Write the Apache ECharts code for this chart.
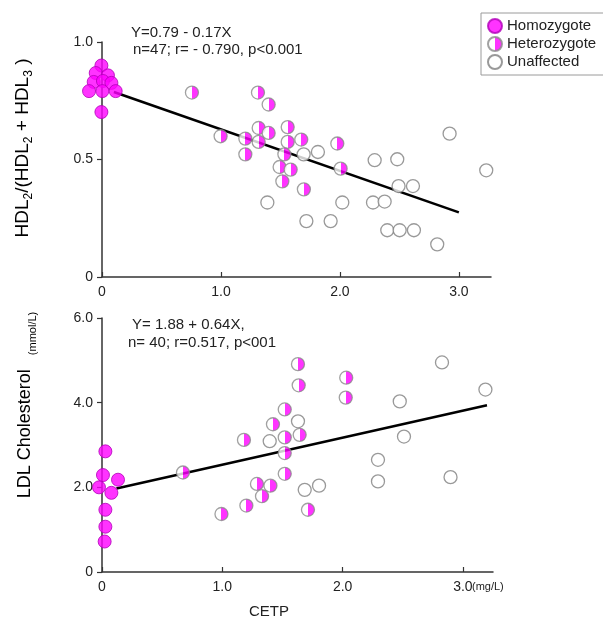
<!DOCTYPE html>
<html><head><meta charset="utf-8">
<script src="https://cdn.jsdelivr.net/npm/echarts@6/dist/echarts.min.js"></script>
<style>html,body{margin:0;padding:0;background:#fff}#c{width:603px;height:619px}</style>
</head><body><div id="c"></div>
<script>
// ---------- data ----------
const xTickValues = [0, 1, 2, 3];
const xTickLabels = ['0', '1.0', '2.0', '3.0'];
const hdlTickLabels = { 0: '0', 0.5: '0.5', 1: '1.0' };
const ldlTickLabels = { 0: '0', 2: '2.0', 4: '4.0', 6: '6.0' };

// Top panel: HDL2/(HDL2+HDL3) vs CETP
const hdlHomo = [[-0.005,0.90],[-0.053,0.868],[0.05,0.858],[-0.07,0.83],[0.008,0.834],[0.079,0.826],[-0.109,0.791],[0.003,0.791],[0.115,0.791],[-0.005,0.702]];
const hdlHetero = [[0.756,0.785],[1.311,0.785],[1.401,0.734],[0.997,0.599],[1.317,0.634],[1.401,0.613],[1.205,0.589],[1.317,0.575],[1.561,0.638],[1.561,0.575],[1.675,0.585],[1.205,0.522],[1.533,0.522],[1.493,0.468],[1.586,0.457],[1.516,0.407],[1.697,0.373],[1.978,0.568],[2.006,0.461]];
const hdlUnaff = [[1.695,0.522],[1.815,0.532],[1.39,0.317],[1.718,0.238],[1.922,0.238],[2.02,0.317],[2.292,0.497],[2.482,0.501],[2.493,0.387],[2.614,0.387],[2.278,0.317],[2.376,0.321],[2.398,0.199],[2.502,0.199],[2.622,0.199],[2.818,0.139],[2.922,0.61],[3.23,0.454]];
const hdlFit = [[0.1,0.787],[3.0,0.275]];

// Bottom panel: LDL cholesterol vs CETP
const ldlHomo = [[0.028,2.85],[0.008,2.29],[-0.025,2.0],[0.078,1.87],[0.133,2.18],[0.028,1.47],[0.028,1.07],[0.022,0.72]];
const ldlHetero = [[0.673,2.35],[0.993,1.37],[1.18,3.12],[1.2,1.57],[1.288,2.08],[1.4,2.04],[1.33,1.79],[1.421,3.49],[1.519,3.84],[1.519,3.18],[1.519,2.81],[1.519,2.32],[1.629,4.91],[1.635,4.41],[1.643,3.24],[1.712,1.47],[2.03,4.59],[2.026,4.12]];
const ldlUnaff = [[1.394,3.09],[1.629,3.56],[1.685,1.94],[1.804,2.04],[2.294,2.65],[2.294,2.14],[2.475,4.03],[2.51,3.20],[2.826,4.95],[2.897,2.24],[3.187,4.31]];
const ldlFit = [[0.12,1.97],[3.2,3.94]];

// ---------- styling ----------
const FONT = '"Liberation Sans", Arial, sans-serif';
const TXT = '#222';
const AX = '#333';
const MAG = '#ff00ff';
const homoStyle = { color: MAG, borderColor: '#b000b8', borderWidth: 1 };
const heteroStyle = {
  color: { type: 'linear', x: 0, y: 0, x2: 1, y2: 0,
    colorStops: [{offset:0,color:'#ffffff'},{offset:0.5,color:'#ffffff'},{offset:0.5,color:MAG},{offset:1,color:MAG}] },
  borderColor: '#8a8a8a', borderWidth: 1.3 };
const unaffStyle = { color: '#ffffff', borderColor: '#808080', borderWidth: 1.3 };
const SYM = 13;

function xAxisCfg(gridIndex, max) {
  return {
    gridIndex, type: 'value', min: 0, max,
    axisLine: { lineStyle: { color: AX, width: 1.5 } },
    axisTick: { inside: true, length: 5, customValues: xTickValues, lineStyle: { color: AX, width: 1.2 } },
    axisLabel: { customValues: xTickValues, margin: 8, fontSize: 14, color: TXT, fontFamily: FONT,
      formatter: v => xTickLabels[xTickValues.indexOf(Math.round(v))] },
    splitLine: { show: false }
  };
}
function yAxisCfg(gridIndex, max, interval, labels) {
  return {
    gridIndex, type: 'value', min: 0, max, interval,
    axisLine: { show: true, lineStyle: { color: AX, width: 1.5 } },
    axisTick: { show: true, length: 5, lineStyle: { color: AX, width: 1.2 } },
    axisLabel: { margin: 9, fontSize: 14, color: TXT, fontFamily: FONT, formatter: v => labels[v] ?? '' },
    splitLine: { show: false }
  };
}
function scatter(name, data, style, idx) {
  return { name, type: 'scatter', xAxisIndex: idx, yAxisIndex: idx, data,
    symbol: 'circle', symbolSize: SYM, itemStyle: style, clip: false, z: 3,
    emphasis: { disabled: true } };
}
function fit(data, idx) {
  return { name: 'fit' + idx, type: 'line', xAxisIndex: idx, yAxisIndex: idx, data,
    showSymbol: false, symbol: 'none', lineStyle: { color: '#000', width: 2.6 }, z: 2,
    emphasis: { disabled: true }, silent: true };
}

const chart = echarts.init(document.getElementById('c'), null, { renderer: 'canvas' });
chart.setOption({
  animation: false,
  backgroundColor: '#fff',
  textStyle: { fontFamily: FONT },
  grid: [
    { left: 102, top: 42, width: 389, height: 235 },
    { left: 102, top: 318, width: 391, height: 254 }
  ],
  xAxis: [xAxisCfg(0, 3.27), xAxisCfg(1, 3.25)],
  yAxis: [yAxisCfg(0, 1, 0.5, hdlTickLabels), yAxisCfg(1, 6, 2, ldlTickLabels)],
  legend: {
    orient: 'vertical', left: 481, top: 13,
    data: ['Homozygote', 'Heterozygote', 'Unaffected'],
    itemWidth: 14, itemHeight: 14, itemGap: 2,
    padding: [5, 8, 5, 6],
    borderColor: '#9a9a9a', borderWidth: 1,
    textStyle: { fontSize: 15, color: TXT, fontFamily: FONT },
    selectedMode: false
  },
  series: [
    fit(hdlFit, 0), fit(ldlFit, 1),
    scatter('Unaffected', hdlUnaff, unaffStyle, 0),
    scatter('Heterozygote', hdlHetero, heteroStyle, 0),
    scatter('Homozygote', hdlHomo, homoStyle, 0),
    scatter('Unaffected', ldlUnaff, unaffStyle, 1),
    scatter('Heterozygote', ldlHetero, heteroStyle, 1),
    scatter('Homozygote', ldlHomo, homoStyle, 1)
  ],
  graphic: [
    { type: 'text', x: 131, y: 33, style: { text: 'Y=0.79 - 0.17X', font: '15px ' + FONT, fill: TXT, align: 'left', verticalAlign: 'middle' } },
    { type: 'text', x: 133, y: 50, style: { text: 'n=47; r= - 0.790, p<0.001', font: '15px ' + FONT, fill: TXT, align: 'left', verticalAlign: 'middle' } },
    { type: 'text', x: 132, y: 325, style: { text: 'Y= 1.88 + 0.64X,', font: '15px ' + FONT, fill: TXT, align: 'left', verticalAlign: 'middle' } },
    { type: 'text', x: 128, y: 343, style: { text: 'n= 40; r=0.517, p<001', font: '15px ' + FONT, fill: TXT, align: 'left', verticalAlign: 'middle' } },
    { type: 'text', x: 472, y: 587, style: { text: '(mg/L)', font: '11px ' + FONT, fill: TXT, align: 'left', verticalAlign: 'middle' } },
    { type: 'text', x: 269, y: 612, style: { text: 'CETP', font: '15px ' + FONT, fill: TXT, align: 'center', verticalAlign: 'middle' } },
    { type: 'text', x: 23, y: 148, rotation: Math.PI / 2,
      style: { text: '{m|HDL}{s|2}{m|/(HDL}{s|2}{m| + HDL}{s|3}{m| )}', align: 'center', verticalAlign: 'middle',
        rich: { m: { fontSize: 19, lineHeight: 24, fontFamily: FONT, color: TXT },
                s: { fontSize: 12, lineHeight: 12, verticalAlign: 'bottom', fontFamily: FONT, color: TXT } } } },
    { type: 'text', x: 25, y: 405, rotation: Math.PI / 2,
      style: { text: '{m|LDL Cholesterol}{u|(mmol/L)}', align: 'center', verticalAlign: 'middle',
        rich: { m: { fontSize: 18, lineHeight: 26, fontFamily: FONT, color: TXT },
                u: { fontSize: 11, lineHeight: 11, verticalAlign: 'bottom', padding: [0, 0, 0, 14], fontFamily: FONT, color: TXT } } } }
  ]
});
</script>
</body></html>
